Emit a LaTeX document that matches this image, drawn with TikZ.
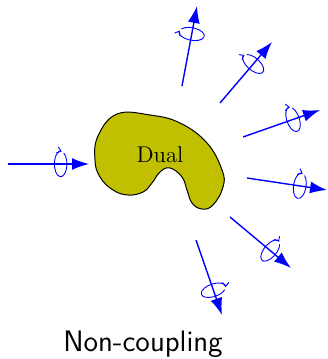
\documentclass[tikz,border=0pt]{standalone}
\usepackage{fontspec}
\usepackage{tikz}
\usetikzlibrary{arrows.meta}

\definecolor{dualfill}{RGB}{192,192,0}

\begin{document}
\begin{tikzpicture}[
        x=0.5pt, y=0.5pt,
        blob/.style={draw=black, fill=dualfill, line width=0.5pt},
        particle/.style={draw=blue, line width=0.7pt, -{Latex[length=8.5pt, width=6pt]}},
        spinloop/.style={draw=blue, line width=0.45pt, -{Straight Barb[length=2pt, width=3.2pt]}},
        pics/spin/.style={code={\draw[spinloop] (420:6.3 and 12.7) arc[start angle=420, end angle=80, x radius=6.3, y radius=12.7];}},
        label/.style={inner sep=0pt, anchor=base}
    ]
        \useasboundingbox (0,0) rectangle (327,359);

        % the dual object
        \draw[blob] plot[smooth cycle, tension=0.7] coordinates {
            (95,199) (98,223) (117,245) (150,244) (180,236) (207,216) (222,189)
            (223,172) (213,154) (202,150) (192,156) (187,169) (182,182) (170,191)
            (160,187) (152,176) (143,167) (128,164) (113,169) (100,182)};
        \node[label, font=\fontsize{11.4}{13}\selectfont] (dual) at (160,196) {Dual};

        % incoming particle
        \coordinate (in0) at (8,195);
        \coordinate (in1) at (89,195);
        \draw[particle] (in0) -- (in1) pic[pos=0.65, sloped] {spin};

        % outgoing particles
        \coordinate (out2a) at (182,273); \coordinate (out2b) at (197,353);
        \coordinate (out3a) at (220,256); \coordinate (out3b) at (272,317);
        \coordinate (out4a) at (243,222); \coordinate (out4b) at (320,249);
        \coordinate (out5a) at (247,181); \coordinate (out5b) at (327,169);
        \coordinate (out6a) at (230,142); \coordinate (out6b) at (291,91);
        \coordinate (out7a) at (196,119); \coordinate (out7b) at (222,44);

        \draw[particle] (out2a) -- (out2b) pic[pos=0.65, sloped] {spin};
        \draw[particle] (out3a) -- (out3b) pic[pos=0.64, sloped] {spin};
        \draw[particle] (out4a) -- (out4b) pic[pos=0.65, sloped] {spin};
        \draw[particle] (out5a) -- (out5b) pic[pos=0.66, sloped] {spin};
        \draw[particle] (out6a) -- (out6b) pic[pos=0.66, sloped] {spin};
        \draw[particle] (out7a) -- (out7b) pic[pos=0.67, sloped] {spin};

        \node[label, font=\fontsize{14.8}{17}\selectfont\sffamily] (caption) at (143,7.3) {Non-coupling};
    \end{tikzpicture}
\end{document}
